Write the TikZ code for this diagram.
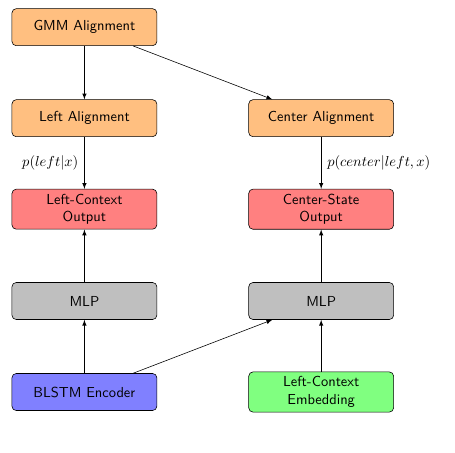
\documentclass[tikz,border=0pt]{standalone}
\usepackage[usenames,dvipsnames]{xcolor}
\usepackage{tikz}
\usetikzlibrary{arrows}

\begin{document}
\begin{tikzpicture}[>=latex,
    box/.style={draw, rounded corners=3pt, minimum width=3.52cm, minimum height=0.9cm, align=center, font=\sffamily},
    alignbox/.style={box, fill=orange!50},
    outbox/.style={box, fill=red!50},
    mlpbox/.style={box, fill=black!25}]
  \useasboundingbox (-2.05,0.66) rectangle (9.0,-10.33);
   \draw (0,0) node[alignbox] (gmm) {GMM Alignment};
   \draw (0,-2.21) node[alignbox] (leftal) {Left Alignment};
   \draw (5.75,-2.21) node[alignbox] (centeral) {Center Alignment};
    \draw (0,-4.42) node[outbox] (leftout) {Left-Context\\Output};
    \draw (5.75,-4.42) node[outbox] (centerout) {Center-State\\Output};
  \draw (0,-6.65) node[mlpbox] (leftmlp) {MLP};
  \draw (5.75,-6.65) node[mlpbox] (centermlp) {MLP};
    \draw (0,-8.86) node[box, fill=blue!50] (blstm) {BLSTM Encoder};
    \draw (5.75,-8.86) node[box, fill=green!50] (embed) {Left-Context\\Embedding};

      \path[->] (gmm) edge (leftal);
      \path[->] (gmm) edge (centeral);
       \path[->] (leftal) edge node[inner sep=0pt, label={left:$p(left|x)$}] {} (leftout);
       \path[->] (centeral) edge node[inner sep=0pt, label={right:$p(center|left,x)$}] {} (centerout);
       \path[->] (leftmlp) edge (leftout);
       \path[->] (centermlp) edge (centerout);
      \path[->] (blstm) edge (leftmlp);
      \path[->] (blstm) edge (centermlp);
      \path[->] (embed) edge (centermlp);

\end{tikzpicture}
\end{document}
